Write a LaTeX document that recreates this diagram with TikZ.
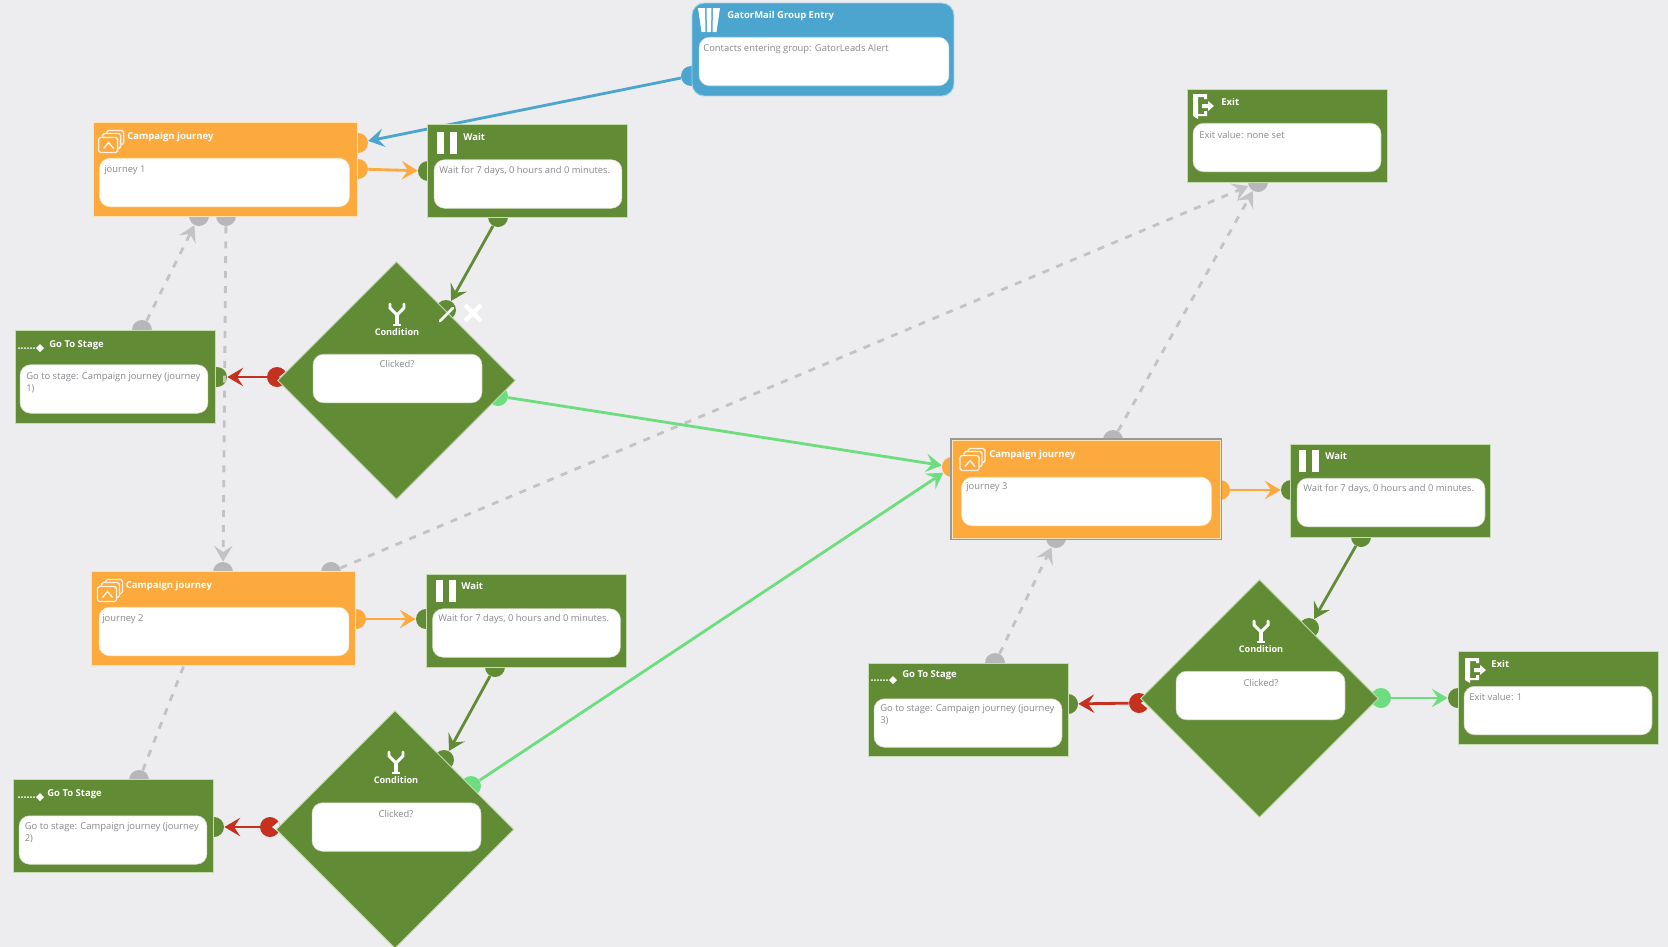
\documentclass[tikz,border=0pt]{standalone}
\usepackage{fontspec}
\setmainfont{Open Sans}
\usetikzlibrary{shapes.geometric}
\usetikzlibrary{arrows.meta}

\definecolor{canvasgray}{HTML}{EDECEE}
\definecolor{stagegreen}{HTML}{628B35}
\definecolor{stageedge}{HTML}{C4DDB0}
\definecolor{stageorange}{HTML}{FCA93D}
\definecolor{orangeedge}{HTML}{FFE3B5}
\definecolor{entryblue}{HTML}{4BA5CE}
\definecolor{linkred}{HTML}{C5311F}
\definecolor{linklime}{HTML}{6EDD80}
\definecolor{linkgray}{HTML}{B7B6B8}
\definecolor{dashgray}{HTML}{C3C2C4}
\definecolor{inktext}{HTML}{8A8A90}

\tikzset{
  pics/pauseicon/.style={code={
    \fill[white] (-10,-11) rectangle (-3,11);
    \fill[white] (3,-11) rectangle (10,11);
  }},
  pics/journeyicon/.style={code={
    \draw[white!85!stageorange, line width=0.8pt, rounded corners=1pt] (-12,-4) rectangle (7,11);
    \draw[white!85!stageorange, line width=0.8pt, rounded corners=1pt] (-8,-4) -- (-8,-8) -- (10,-8) -- (10,7) -- (7,7);
    \draw[white!85!stageorange, line width=0.8pt, rounded corners=1pt] (-4,-8) -- (-4,-11) -- (13,-11) -- (13,3) -- (10,3);
    \draw[white!85!stageorange, line width=0.8pt] (-7,7) -- (-2,1) -- (3,7);
  }},
  pics/gotoicon/.style={code={
    \foreach \dotx in {-12,-9,-6,-3,0,3}
      \fill[white] (\dotx,0) circle (1);
    \fill[white] (9,-4) -- (13,0) -- (9,4) -- (5,0) -- cycle;
  }},
  pics/exiticon/.style={code={
    \fill[white] (-10,-12) -- (4,-12) -- (4,-7) -- (1,-7) -- (1,-9) -- (-5,-9) -- (-5,8) -- (1,8) -- (1,5) -- (4,5) -- (4,10) -- (-5,10) -- (-5,13) -- (-10,10) -- cycle;
    \fill[white] (-1,-2) -- (5,-2) -- (5,-5) -- (11,0) -- (5,5) -- (5,2) -- (-1,2) -- cycle;
  }},
  pics/forkicon/.style={code={
    \draw[white, line width=1.7pt, line cap=round] (-7,-10) -- (-7,-6) -- (0,1) -- (7,-6) -- (7,-10);
    \draw[white, line width=2.2pt] (0,1) -- (0,11);
    \draw[white, line width=1.2pt] (-4,11) -- (4,11);
  }},
  pics/entryicon/.style={code={
    \fill[white] (-11,-12) -- (-4,-12) -- (-3.5,12) -- (-7.5,12) -- cycle;
    \fill[white] (-2.5,-12) -- (2.5,-12) -- (2,12) -- (-2,12) -- cycle;
    \fill[white] (11,-12) -- (4,-12) -- (3.5,12) -- (7.5,12) -- cycle;
  }}
}

\begin{document}
\begin{tikzpicture}[x=0.02cm, y=-0.02cm]

\tikzstyle{stagebox}=[rectangle, draw=stageedge, line width=0.5pt, fill=stagegreen, minimum width=4cm, minimum height=1.86cm, inner sep=0pt]
\tikzstyle{journeybox}=[rectangle, draw=orangeedge, line width=0.5pt, fill=stageorange, minimum width=5.28cm, minimum height=1.88cm, inner sep=0pt]
\tikzstyle{entrybox}=[rectangle, rounded corners=7pt, draw=white!50!entryblue, line width=0.5pt, fill=entryblue, minimum width=5.24cm, minimum height=1.86cm, inner sep=0pt]
\tikzstyle{splitbox}=[diamond, aspect=1, draw=stageedge, line width=0.5pt, fill=stagegreen, minimum width=4.76cm, minimum height=4.76cm, inner sep=0pt]
\tikzstyle{bodybox}=[rectangle, rounded corners=6pt, fill=white, draw=white!70!stagegreen, line width=0.3pt, minimum width=3.76cm, minimum height=0.97cm, inner sep=0pt]
\tikzstyle{widebody}=[bodybox, draw=white!70!stageorange, minimum width=5cm]
\tikzstyle{splitbody}=[bodybox, minimum width=3.38cm]
\tikzstyle{titletext}=[anchor=west, inner sep=0pt, text=white, font=\fontsize{5.4}{7}\selectfont\bfseries]
\tikzstyle{bodytext}=[anchor=west, inner sep=0pt, align=left, text=inktext, font=\fontsize{5.35}{6.6}\selectfont]
\tikzstyle{midtext}=[bodytext, anchor=center, align=center]
\tikzstyle{port}=[circle, minimum size=0.4cm, inner sep=0pt, draw=none]
\tikzstyle{noport}=[port, fill=linkred, path picture={\fill[canvasgray] (path picture bounding box.center) ++(2,0) -- ++(10,-8) -- ++(0,16) -- cycle;}]
\tikzstyle{connect}=[-{Stealth[length=9pt, width=10.5pt, inset=3.5pt]}, line width=1.6pt]
\tikzstyle{linkback}=[connect, color=dashgray, dashed, dash pattern=on 4pt off 4.5pt]

\fill[canvasgray] (0,0) rectangle (1668,947);
\useasboundingbox (0,0) rectangle (1668,947);

% ports sit under the boxes
\node[port, fill=entryblue] (entryout) at (691,76) {};
\node[port, fill=stageorange] (j1in) at (358,143) {};
\node[port, fill=stageorange] (j1out) at (358,169) {};
\node[port, fill=linkgray] (j1back) at (199,216) {};
\node[port, fill=linkgray] (j1down) at (226,216) {};
\node[port, fill=stagegreen] (w1in) at (428,171) {};
\node[port, fill=stagegreen] (w1out) at (498,217) {};
\node[port, fill=stagegreen] (s1in) at (446,310) {};
\node[noport] (s1no) at (277,377) {};
\node[port, fill=linklime] (s1yes) at (498,396) {};
\node[port, fill=stagegreen] (g1in) at (217,377) {};
\node[port, fill=linkgray] (g1top) at (142,330) {};

\node[port, fill=linkgray] (j2top) at (331,572) {};
\node[port, fill=linkgray] (j2drop) at (223,572) {};
\node[port, fill=stageorange] (j2out) at (356,619) {};
\node[port, fill=stagegreen] (w2in) at (426,619) {};
\node[port, fill=stagegreen] (w2out) at (495,667) {};
\node[port, fill=stagegreen] (s2in) at (444,760) {};
\node[noport] (s2no) at (270,827) {};
\node[port, fill=linklime] (s2yes) at (471,786) {};
\node[port, fill=stagegreen] (g2in) at (214,827) {};
\node[port, fill=linkgray] (g2top) at (139,780) {};
\coordinate (j2under) at (190,650);

\node[port, fill=stageorange] (j3in) at (952,467) {};
\node[port, fill=stageorange] (j3out) at (1220,490) {};
\node[port, fill=linkgray] (j3top) at (1113,440) {};
\node[port, fill=linkgray] (j3low) at (1056,538) {};
\node[port, fill=stagegreen] (w3in) at (1291,490) {};
\node[port, fill=stagegreen] (w3out) at (1361,537) {};
\node[port, fill=stagegreen] (s3in) at (1309,628) {};
\node[noport] (s3no) at (1139,703) {};
\node[port, fill=linklime] (s3yes) at (1381,698) {};
\node[port, fill=stagegreen] (g3in) at (1068,704) {};
\node[port, fill=linkgray] (g3top) at (995,663) {};
\node[port, fill=linkgray] (x1low) at (1258,182) {};
\node[port, fill=stagegreen] (x2in) at (1458,698) {};

\path (g1top) [linkback] edge (j1back);
\path (j1down) [linkback] edge (j2drop);
\path (j2top) [linkback] edge (x1low);
\path (j3top) [linkback] edge (x1low);
\path (g3top) [linkback] edge (j3low);
\draw[color=dashgray, line width=1.6pt, dash pattern=on 4pt off 4.5pt] (g2top) -- (j2under);

\path (entryout) [connect, color=entryblue] edge (j1in);
\path (j1out) [connect, color=stageorange] edge (w1in);
\path (w1out) [connect, color=stagegreen] edge (s1in);
\path (s1no) [connect, color=linkred] edge (g1in);
\path (s1yes) [connect, color=linklime] edge (j3in);

\path (j2out) [connect, color=stageorange] edge (w2in);
\path (w2out) [connect, color=stagegreen] edge (s2in);
\path (s2no) [connect, color=linkred] edge (g2in);
\path (s2yes) [connect, color=linklime] edge (j3in);

\path (j3out) [connect, color=stageorange] edge (w3in);
\path (w3out) [connect, color=stagegreen] edge (s3in);
\path (s3no) [connect, color=linkred] edge (g3in);
\path (s3yes) [connect, color=linklime] edge (x2in);

% top entry
\node[entrybox] (entry) at (823,49.5) {};
\node[widebody, draw=white!70!entryblue] (entrybody) at (824,61.5) {};
\pic at (709,20) {entryicon};
\node[titletext] (entrytitle) at (727,16.5) {GatorMail Group Entry};
\node[bodytext] (entrytext) at (703,49) {Contacts entering group: GatorLeads Alert};

% first row
\node[journeybox] (j1) at (225.5,169.5) {};
\node[widebody] (j1body) at (224.5,182.5) {};
\pic at (110.6,141.5) {journeyicon};
\node[titletext] (j1title) at (127,137) {Campaign journey};
\node[bodytext] (j1text) at (104,170) {journey 1};

\node[stagebox] (w1) at (527.5,171) {};
\node[bodybox] (w1body) at (528,184) {};
\pic at (447,143) {pauseicon};
\node[titletext] (w1title) at (463,137) {Wait};
\node[bodytext] (w1text) at (439,171) {Wait for 7 days, 0 hours and 0 minutes.};

\node[splitbox] (s1) at (396.5,380.5) {};
\node[splitbody] (s1body) at (397.5,378.5) {};
\pic at (397,314) {forkicon};
\node[midtext, text=white, font=\fontsize{5.2}{7}\selectfont\bfseries] (s1title) at (397,332) {Condition};
\node[midtext] (s1text) at (397,364) {Clicked?};

\node[stagebox] (g1) at (115,376.5) {};
\node[bodybox] (g1body) at (114,389) {};
\pic at (31,348) {gotoicon};
\node[titletext] (g1title) at (49,345) {Go To Stage};
\node[bodytext] (g1text) at (26,383) {Go to stage: Campaign journey (journey\\1)};

% second row
\node[journeybox] (j2) at (223,618.5) {};
\node[widebody] (j2body) at (224,631.5) {};
\pic at (109.5,590.5) {journeyicon};
\node[titletext] (j2title) at (125.5,586) {Campaign journey};
\node[bodytext] (j2text) at (102,619) {journey 2};

\node[stagebox] (w2) at (526,620.5) {};
\node[bodybox] (w2body) at (526.5,633) {};
\pic at (445.5,591) {pauseicon};
\node[titletext] (w2title) at (461,586) {Wait};
\node[bodytext] (w2text) at (438,619) {Wait for 7 days, 0 hours and 0 minutes.};

\node[splitbox] (s2) at (395,829.5) {};
\node[splitbody] (s2body) at (396.5,827) {};
\pic at (396,762) {forkicon};
\node[midtext, text=white, font=\fontsize{5.2}{7}\selectfont\bfseries] (s2title) at (396,780) {Condition};
\node[midtext] (s2text) at (396,814) {Clicked?};

\node[stagebox] (g2) at (113.5,826) {};
\node[bodybox] (g2body) at (113,840) {};
\pic at (31,797) {gotoicon};
\node[titletext] (g2title) at (47,794) {Go To Stage};
\node[bodytext] (g2text) at (24.5,833) {Go to stage: Campaign journey (journey\\2)};

% right side
\node[journeybox, minimum width=5.36cm, minimum height=1.96cm, preaction={draw=black!40, line width=2pt}] (j3) at (1086,489) {};
\node[widebody] (j3body) at (1086.5,501.5) {};
\pic at (972,459.5) {journeyicon};
\node[titletext] (j3title) at (989,455) {Campaign journey};
\node[bodytext] (j3text) at (966,487) {journey 3};

\node[stagebox] (w3) at (1390.5,490.5) {};
\node[bodybox] (w3body) at (1391,502.5) {};
\pic at (1309,461) {pauseicon};
\node[titletext] (w3title) at (1325,456) {Wait};
\node[bodytext] (w3text) at (1303,489) {Wait for 7 days, 0 hours and 0 minutes.};

\node[splitbox] (s3) at (1259.5,698.5) {};
\node[splitbody] (s3body) at (1260.5,695.5) {};
\pic at (1261,631) {forkicon};
\node[midtext, text=white, font=\fontsize{5.2}{7}\selectfont\bfseries] (s3title) at (1261,649) {Condition};
\node[midtext] (s3text) at (1261,683) {Clicked?};

\node[stagebox] (g3) at (968,709.5) {};
\node[bodybox] (g3body) at (968,723) {};
\pic at (884,680) {gotoicon};
\node[titletext] (g3title) at (902,675) {Go To Stage};
\node[bodytext] (g3text) at (880,715) {Go to stage: Campaign journey (journey\\3)};

\node[stagebox] (x1) at (1287,136) {};
\node[bodybox] (x1body) at (1287,147.5) {};
\pic at (1203,106) {exiticon};
\node[titletext] (x1title) at (1221,102) {Exit};
\node[bodytext] (x1text) at (1199,135) {Exit value: none set};

\node[stagebox] (x2) at (1558,698) {};
\node[bodybox] (x2body) at (1558,710.5) {};
\pic at (1475,670) {exiticon};
\node[titletext] (x2title) at (1491,664) {Exit};
\node[bodytext] (x2text) at (1469,697) {Exit value: 1};

% edit and delete marks on the first condition
\draw[white, line width=1.6pt, line cap=round] (440,321) -- (453,308);
\draw[white, line width=2.6pt] (465,305) -- (481,321);
\draw[white, line width=2.6pt] (481,305) -- (465,321);

\end{tikzpicture}
\end{document}
